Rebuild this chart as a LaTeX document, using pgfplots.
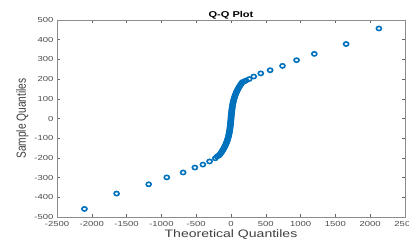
\documentclass[border=0pt]{standalone}
\usepackage{fontspec}
\setmainfont{Liberation Sans}[FakeStretch=1.3]
\newfontfamily\plainsans{Liberation Sans}
\usepackage{graphicx}
\usepackage{pgfplots}
\pgfplotsset{compat=1.18}
\definecolor{mblue}{RGB}{0,114,189}
\begin{document}
\begin{tikzpicture}
\useasboundingbox (0,0) rectangle (409pt,243pt);
\begin{axis}[
  at={(57pt,26pt)}, anchor=south west,
  scale only axis, width=348pt, height=197pt,
  xmin=-2500, xmax=2500, ymin=-500, ymax=500,
  xtick={-2500,-2000,...,2500}, ytick={-500,-400,...,500},
  tick align=inside, major tick length=3pt,
  tick style={black!60, thin},
  axis line style={black!45},
  ticklabel style={font=\fontsize{7.3}{8}\selectfont, text=black!70},
  xticklabel style={yshift=-1pt},
  /pgf/number format/assume math mode=true,
  /pgf/number format/1000 sep={},
  title={\textbf{Q-Q Plot}},
  title style={font=\fontsize{8.5}{9}\selectfont, at={(0.5,1)}, anchor=base, yshift=-4pt},
  xlabel={Theoretical Quantiles},
  ylabel={\plainsans\scalebox{1}[1.3]{Sample Quantiles}},
  xlabel style={font=\fontsize{10.8}{11}\selectfont, text=black!75, yshift=4pt},
  ylabel style={font=\fontsize{10.2}{11}\selectfont, text=black!75, yshift=-1pt},
]
\addplot[only marks, mark=o, mark size=2.1pt, color=mblue, mark options={line width=1.6pt, xscale=1.2}] coordinates {
(-2106,-459) (-1644,-381) (-1183,-334) (-923,-299) (-688,-274) (-519,-249) (-404,-234) (-308,-218) (-226,-202) (-200,-193) (-173,-187)
(-165.3,-185) (-154.6,-180) (-144.5,-175) (-134.9,-170) (-125.7,-165) (-117.0,-160) (-108.8,-155) (-101.0,-150)
(-93.6,-145) (-86.6,-140) (-80.0,-135) (-73.8,-130) (-68.0,-125) (-62.5,-120) (-57.3,-115) (-52.5,-110) (-48.0,-105)
(-43.8,-100) (-39.9,-95) (-36.2,-90) (-32.8,-85) (-29.6,-80) (-26.7,-75) (-24.0,-70) (-21.4,-65) (-19.1,-60)
(-16.9,-55) (-14.9,-50) (-13.0,-45) (-11.2,-40) (-9.6,-35) (-8.0,-30) (-6.5,-25) (-5.2,-20) (-3.8,-15) (-2.5,-10) (-1.3,-5)
(0,0)
(1.3,5) (2.5,10) (3.8,15) (5.2,20) (6.5,25) (8.0,30) (9.6,35) (11.2,40) (13.0,45) (14.9,50) (16.9,55)
(19.1,60) (21.4,65) (24.0,70) (26.7,75) (29.6,80) (32.8,85) (36.2,90) (39.9,95) (43.8,100)
(48.0,105) (52.5,110) (57.3,115) (62.5,120) (68.0,125) (73.8,130) (80.0,135) (86.6,140) (93.6,145)
(101.0,150) (108.8,155) (117.0,160) (125.7,165) (134.9,170) (144.5,175) (154.6,180) (165.3,185)
(190,188) (215,193) (260,200) (327,213) (428,229) (562,245) (740,267) (942,296) (1197,328) (1654,378) (2125,457)
};
\end{axis}
\end{tikzpicture}
\end{document}
